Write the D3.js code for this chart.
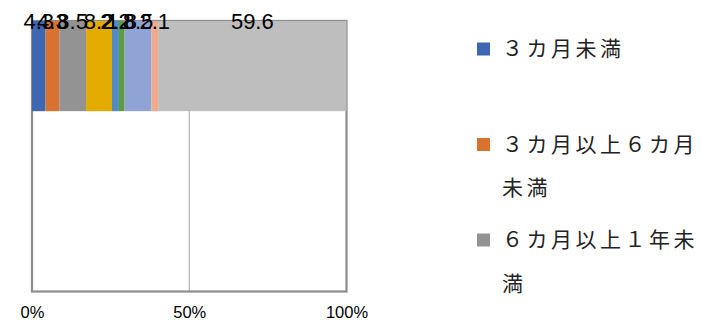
<!DOCTYPE html>
<html><head><meta charset="utf-8">
<script src="https://cdn.jsdelivr.net/npm/d3@7"></script>
<style>
html,body{margin:0;padding:0;background:#fff;}
svg{display:block;}
</style></head>
<body>
<svg id="chart" width="702" height="320"></svg>
<script>
const categories = ["全体", "", ""];
const seriesNames = ["３カ月未満", "３カ月以上６カ月未満", "６カ月以上１年未満", "１年以上２年未満", "２年以上３年未満", "３年以上５年未満", "５年以上10年未満", "10年以上", "無回答"];
const seriesValues = [4.3, 4.3, 8.5, 8.2, 2.2, 1.8, 8.5, 2.1, 59.6];
const seriesColors = ["#3F67B1", "#D9712F", "#939393", "#E3AA00", "#4F8BC4", "#5E9A3F", "#8FA3D5", "#F2A98C", "#BEBEBE"];
const tickValues = [0, 50, 100];
const tickLabels = ["0%", "50%", "100%"];

const svg = d3.select("#chart");
const W = 702, H = 320;
const plot = {left: 32, right: 346.5, top: 21, bottom: 291.5};

const x = d3.scaleLinear().domain([0, 100]).range([plot.left, plot.right]);
const y = d3.scaleBand().domain(d3.range(categories.length)).range([plot.top, plot.bottom]).padding(0);

// gridlines
svg.append("g").selectAll("line").data(tickValues.filter(v => v > 0 && v < 100)).join("line")
  .attr("x1", d => x(d)).attr("x2", d => x(d))
  .attr("y1", plot.top).attr("y2", plot.bottom)
  .attr("stroke", "#a6a6a6").attr("stroke-width", 1);

// border
svg.append("rect")
  .attr("x", plot.left).attr("y", plot.top)
  .attr("width", plot.right - plot.left).attr("height", plot.bottom - plot.top)
  .attr("fill", "none").attr("stroke", "#8c8c8c").attr("stroke-width", 2.2);

// stacked segments (100% normalised)
const total = d3.sum(seriesValues);
let cum = 0;
const segs = seriesValues.map((v, i) => {
  const s = {i, v, x0: cum / total * 100, x1: (cum + v) / total * 100};
  cum += v;
  return s;
});

svg.append("g").selectAll("rect").data(segs).join("rect")
  .attr("x", d => x(d.x0))
  .attr("y", y(0))
  .attr("width", d => x(d.x1) - x(d.x0))
  .attr("height", y.bandwidth())
  .attr("fill", d => seriesColors[d.i]);

svg.append("g").selectAll("text").data(segs).join("text")
  .attr("x", d => (x(d.x0) + x(d.x1)) / 2)
  .attr("y", 29)
  .attr("text-anchor", "middle")
  .attr("font-family", "'Liberation Sans', Arial, sans-serif")
  .attr("font-size", 22)
  .attr("fill", "#000")
  .text(d => d.v.toFixed(1));

// x axis labels
const axis = d3.axisBottom(x).tickValues(tickValues).tickFormat((d, i) => tickLabels[i]).tickSize(0).tickPadding(0);
const ag = svg.append("g").attr("transform", `translate(0,${plot.bottom})`).call(axis);
ag.select(".domain").remove();
ag.selectAll("text")
  .attr("font-family", "'Liberation Sans', Arial, sans-serif")
  .attr("font-size", 16.5)
  .attr("fill", "#000")
  .attr("dy", null)
  .attr("y", 26.5);

// legend (only entries that fit the visible area)
const lg = svg.append("g");
const legendX = 477, legendTextX = 502, itemStep = 95.5, firstY = 49, lineH = 43.5;
const charsPerLine = 8;
seriesNames.forEach((name, i) => {
  const cy = firstY + i * itemStep;
  if (cy > H) return;
  lg.append("rect").attr("x", legendX).attr("y", cy - 6.5).attr("width", 13).attr("height", 13)
    .attr("fill", seriesColors[i]);
  const chars = Array.from(name);
  const lines = [];
  for (let k = 0; k < chars.length; k += charsPerLine) lines.push(chars.slice(k, k + charsPerLine).join(""));
  lines.forEach((ln, j) => {
    lg.append("text")
      .attr("x", legendTextX).attr("y", cy + j * lineH)
      .attr("dy", "0.35em")
      .attr("font-family", "'Noto Sans CJK JP', 'Noto Sans CJK SC', sans-serif")
      .attr("font-size", 21)
      .attr("letter-spacing", "3.5px")
      .attr("fill", "#222")
      .text(ln);
  });
});
</script>
</body></html>
